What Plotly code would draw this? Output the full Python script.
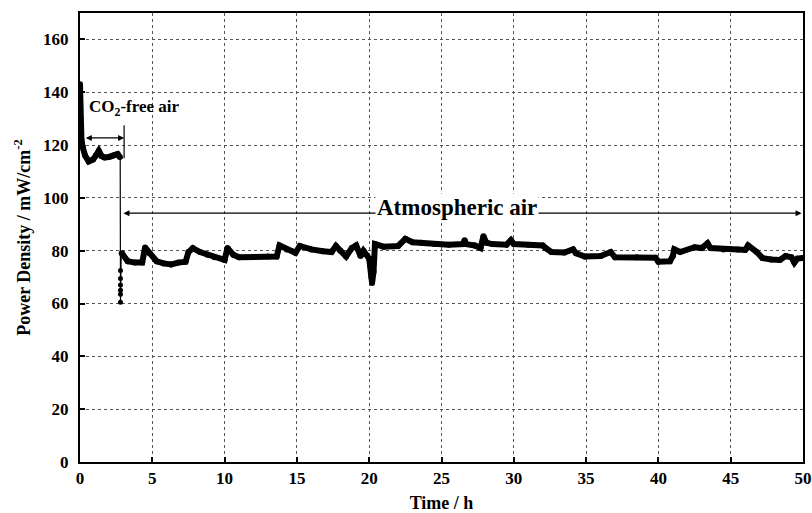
import plotly.graph_objects as go

# CO2-free air period
co2_t = [0, 0, 0, 0.02, 0.05, 0.1, 0.2, 0.35, 0.6, 0.9, 1.1, 1.3, 1.5, 1.7, 2.0, 2.3, 2.6, 2.75]
co2_v = [143, 140, 137, 130, 125.5, 122, 119, 116, 113.8, 114.5, 116, 117.8, 115.8, 115.3, 115.5, 116, 116.6, 115.5]

# switch-over transient
drop_t = [2.78, 2.8, 2.8, 2.8, 2.8, 2.8, 2.8, 2.85]
drop_v = [115.5, 72.5, 69.5, 67, 65, 63.5, 60.5, 79]

# Atmospheric air period
atm_t = [2.9, 3.3, 3.8, 4.3, 4.5, 4.8, 5.3, 5.8, 6.3, 6.8, 7.3, 7.5, 7.8, 8.3, 8.8, 9.3,
         10.0, 10.2, 10.6, 11.0, 12.0, 13.0, 13.6, 13.8, 14.3, 14.9, 15.2, 16.0, 16.8,
         17.4, 17.7, 18.0, 18.4, 18.8, 19.1, 19.4, 19.6, 20.0, 20.1, 20.15, 20.2, 20.3,
         20.4, 21.0, 22.0, 22.5, 23.0, 23.6, 24.5, 25.5, 26.5, 26.6, 26.7, 27.3, 27.7,
         27.9, 28.1, 28.5, 29.5, 29.8, 30.0, 31.0, 32.0, 32.2, 32.6, 33.5, 34.1, 34.3,
         34.9, 36.0, 36.7, 37.0, 38.5, 39.8, 40.0, 40.8, 41.0, 41.1, 41.5, 42.5, 43.0,
         43.4, 43.6, 44.5, 45.5, 46.0, 46.2, 46.8, 47.2, 47.8, 48.4, 48.8, 49.2, 49.4,
         49.6, 50.0]
atm_v = [79, 76, 75.5, 75.5, 81.2, 79, 76, 75.2, 74.8, 75.5, 75.8, 79.5, 81, 79.5, 78.5, 77.5,
         76.5, 81, 78.5, 77.5, 77.6, 77.8, 77.8, 82, 80.5, 79.2, 81.8, 80.5, 79.8,
         79.5, 81.8, 80, 77.8, 81, 82, 78, 80, 77, 74, 70, 67.8, 72,
         82.5, 81.5, 81.8, 84.5, 83.2, 83, 82.5, 82.3, 82.5, 84, 82.5, 82, 81,
         85.5, 83, 82.5, 82.3, 84, 82.5, 82.3, 82, 81, 79.5, 79.3, 80.5, 79,
         77.8, 78, 79.5, 77.5, 77.5, 77.3, 75.8, 76, 78, 80.5, 79.5, 81.3, 81,
         82.8, 81, 80.5, 80.5, 80.3, 82, 79.5, 77.2, 76.7, 76.5, 78, 77.5, 75.5,
         77, 77.2]

x_ticks = [0, 5, 10, 15, 20, 25, 30, 35, 40, 45, 50]
y_ticks = [0, 20, 40, 60, 80, 100, 120, 140, 160]

FONT = "Liberation Serif"

fig = go.Figure()
fig.add_trace(go.Scatter(x=drop_t, y=drop_v, mode="lines+markers",
                         line=dict(color="black", width=1.2),
                         marker=dict(color="black", size=5), showlegend=False))
for tt, vv in [(co2_t, co2_v), (atm_t, atm_v)]:
    fig.add_trace(go.Scatter(x=tt, y=vv, mode="lines+markers",
                             line=dict(color="black", width=6),
                             marker=dict(color="black", size=6), showlegend=False))

# CO2-free air double arrow
fig.add_annotation(x=3.05, y=122.7, ax=0.3, ay=122.7, xref="x", yref="y", axref="x", ayref="y",
                   text="", showarrow=True, arrowhead=2, arrowside="end+start",
                   arrowsize=1, arrowwidth=1.2, arrowcolor="black")
fig.add_shape(type="line", x0=3.05, x1=3.05, y0=115, y1=127.5, xref="x", yref="y",
              line=dict(color="black", width=1.2))
fig.add_annotation(x=0.45, y=134, xref="x", yref="y", xanchor="left", yanchor="middle",
                   text="CO<sub>2</sub>-free air", showarrow=False,
                   font=dict(family=FONT, size=17, color="black", weight="bold"))

# Atmospheric air double arrow
fig.add_annotation(x=49.9, y=94.2, ax=2.9, ay=94.2, xref="x", yref="y", axref="x", ayref="y",
                   text="", showarrow=True, arrowhead=2, arrowside="end+start",
                   arrowsize=1, arrowwidth=1.2, arrowcolor="black")
fig.add_annotation(x=26.1, y=96.3, xref="x", yref="y", xanchor="center", yanchor="middle",
                   text="Atmospheric air", showarrow=False, bgcolor="white",
                   font=dict(family=FONT, size=23, color="black", weight="bold"))

axis_common = dict(showline=True, linecolor="black", linewidth=2, mirror=True,
                   showgrid=True, gridcolor="#555555", griddash="dot", gridwidth=1,
                   ticks="inside", ticklen=5, tickcolor="black", tickwidth=1.5,
                   zeroline=False, ticklabeloverflow="allow", automargin=False,
                   tickfont=dict(family=FONT, size=17, color="black", weight="bold"))

fig.update_xaxes(range=[0, 50], tickvals=x_ticks, ticktext=[str(v) for v in x_ticks],
                 title=dict(text="Time / h", standoff=10,
                            font=dict(family=FONT, size=18, color="black", weight="bold")),
                 **axis_common)
fig.update_yaxes(range=[0, 170], tickvals=y_ticks, ticktext=[str(v) for v in y_ticks],
                 ticklabelstandoff=6,
                 title=dict(text="Power Density / mW/cm<sup>-2</sup>", standoff=8,
                            font=dict(family=FONT, size=18, color="black", weight="bold")),
                 **axis_common)

fig.update_layout(width=812, height=513, margin=dict(l=80, r=9, t=13, b=51),
                  plot_bgcolor="white", paper_bgcolor="white")

fig.write_html("out.html")
